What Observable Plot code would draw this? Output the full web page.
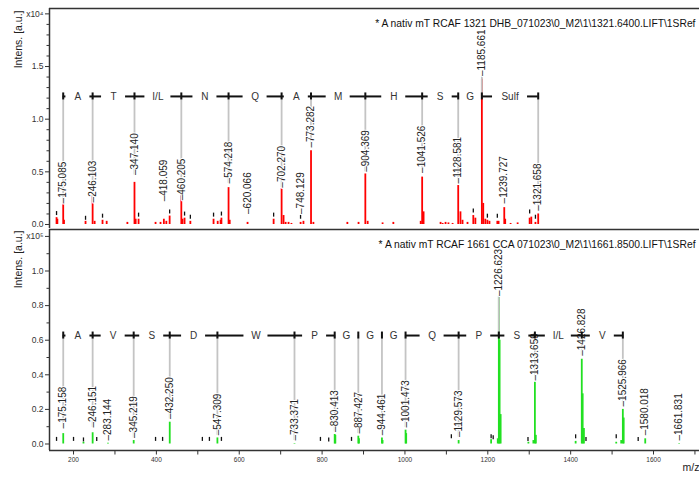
<!DOCTYPE html>
<html><head><meta charset="utf-8">
<script src="https://cdn.jsdelivr.net/npm/d3@7"></script>
<script src="https://cdn.jsdelivr.net/npm/@observablehq/plot@0.6"></script>
<style>
html,body{margin:0;padding:0;background:#fff;}
#chart svg{display:block;}
</style></head><body><div id="chart"></div>
<script>
// ---------------- DATA ----------------
const mzDomain = [142, 1711];

// Top spectrum (x10^4)
const topTitle = "* A nativ mT RCAF 1321 DHB_071023\\0_M2\\1\\1321.6400.LIFT\\1SRef";
const topPeakMz  = [175.085,246.103,347.140,418.059,460.205,574.218,620.066,702.270,748.129,773.282,904.369,1041.526,1128.581,1185.661,1239.727,1321.658,
  159,161,177,229,251,270,280,330,350,357,398,410,424,432,463,468,482,538,548,555,557,577,683,707,712,719,726,755,779,861,888,910,946,972,1038,1045,1086,1091,1098,1105,1115,1134,1139,1151,1165,1170,1189,1194,1199,1204,1223,1226,1242,1255,1272,1301,1305,1315];
const topPeakInt = [0.25,0.27,0.40,0.05,0.27,0.35,0.02,0.34,0.02,0.70,0.48,0.45,0.37,1.38,0.16,0.10,
  0.065,0.05,0.04,0.03,0.03,0.04,0.03,0.02,0.05,0.05,0.02,0.02,0.03,0.08,0.05,0.06,0.03,0.05,0.03,0.04,0.06,0.04,0.05,0.085,0.02,0.02,0.01,0.03,0.02,0.02,0.02,0.03,0.015,0.02,0.03,0.12,0.02,0.01,0.02,0.015,0.01,0.12,0.04,0.02,0.085,0.06,0.2,0.05,0.04,0.03,0.03,0.03,0.05,0.01,0.015,0.06,0.07,0.02];
const topMarkMz = [159,229,270,357,432,468,482,538,557,683,748,1165,1199,1223,1301,1315];
const topMarkY  = [0.085,0.04,0.06,0.07,0.1,0.08,0.05,0.07,0.08,0.07,0.05,0.11,0.06,0.06,0.1,0.05];
const topLabelMz   = [175.085,246.103,347.140,418.059,460.205,574.218,620.066,702.270,748.129,773.282,904.369,1041.526,1128.581,1185.661,1239.727,1321.658];
const topLabelText = ["175.085","246.103","347.140","418.059","460.205","574.218","620.066","702.270","748.129","773.282","904.369","1041.526","1128.581","1185.661","1239.727","1321.658"];
const topLabelY    = [0.2,0.21,0.47,0.22,0.23,0.39,0.1,0.35,0.1,0.73,0.5,0.49,0.39,1.41,0.2,0.13];
const topSeqMz     = [175.085,246.103,347.140,460.205,574.218,702.270,773.282,904.369,1041.526,1128.581,1185.661,1321.658];
const topSeqLetters= ["A","T","I/L","N","Q","A","M","H","S","G","Sulf"];
const topBracketY  = 1.216;

// Bottom spectrum (x10^5)
const botTitle = "* A nativ mT RCAF 1661 CCA 071023\\0_M2\\1\\1661.8500.LIFT\\1SRef";
const botPeakMz  = [175.158,246.151,283.144,345.219,432.250,547.309,733.371,830.413,887.427,944.461,1001.473,1129.573,1226.623,1313.659,1426.828,1525.966,1580.018,1661.831,
  224,832,889,946,1003,1208,1224,1228.5,1231,1298,1310,1316,1412,1429,1432,1510,1522,1528];
const botPeakInt = [0.06,0.065,0.004,0.02,0.126,0.035,0.003,0.055,0.045,0.035,0.08,0.02,0.85,0.357,0.49,0.2,0.03,0.003,
  0.01,0.05,0.03,0.02,0.06,0.025,0.03,0.6,0.17,0.01,0.02,0.05,0.015,0.29,0.09,0.01,0.02,0.15];
const botMarkMz = [159,200,224,256,398,415,511,528,557,796,816,871,1112,1208,1213,1297,1412,1437,1510,1563];
const botMarkY  = [0.015,0.015,0.012,0.015,0.015,0.015,0.015,0.015,0.015,0.015,0.012,0.015,0.03,0.03,0.025,0.015,0.03,0.015,0.03,0.015];
const botLabelMz   = [175.158,246.151,283.144,345.219,432.250,547.309,733.371,830.413,887.427,944.461,1001.473,1129.573,1226.623,1313.659,1426.828,1525.966,1580.018,1661.831];
const botLabelText = ["175.158","246.151","283.144","345.219","432.250","547.309","733.371","830.413","887.427","944.461","1001.473","1129.573","1226.623","1313.659","1426.828","1525.966","1580.018","1661.831"];
const botLabelY    = [0.09,0.095,0.02,0.035,0.145,0.05,0.02,0.07,0.06,0.05,0.095,0.04,0.855,0.367,0.51,0.217,0.05,0.02];
const botSeqMz     = [175.158,246.151,345.219,432.250,547.309,733.371,830.413,887.427,944.461,1001.473,1129.573,1226.623,1313.659,1426.828,1525.966];
const botSeqLetters= ["A","V","S","D","W","P","G","G","G","Q","P","S","I/L","V"];
const botBracketY  = 0.627;

const xTicks = d3.range(200, 1800, 100);

// ---------------- DRAW ----------------
const FONT = "'Liberation Sans', Arial, Helvetica, sans-serif";
const W = 699, ML = 49, MR = 0;
const pxPerMz = (W - ML - MR) / (mzDomain[1] - mzDomain[0]);
const AX = "#333";

function panel(c) {
  const pxPerY = (c.height - c.marginTop - c.marginBottom) / (c.yDomain[1] - c.yDomain[0]);
  const py = px => px / pxPerY;
  const peaks = c.peakMz.map((mz, i) => ({mz, v: c.peakInt[i]}));
  const marks = c.markMz.map((mz, i) => ({mz, v: c.markY[i]}));
  const labels = c.labMz.map((mz, i) => ({mz, text: c.labText[i], v: c.labY[i]}));
  const seqLabels = labels.filter(d => c.seqMz.includes(d.mz));
  const segs = [], letters = [];
  for (let i = 0; i < c.seqLetters.length; i++) {
    const a = c.seqMz[i], b = c.seqMz[i + 1], mid = (a + b) / 2;
    const L = c.seqLetters[i].length;
    const gapPx = L >= 4 ? 35 : L === 3 ? 26 : 24;
    const g = gapPx / 2 / pxPerMz;
    if (mid - g > a) segs.push({x1: a, x2: mid - g});
    if (b > mid + g) segs.push({x1: mid + g, x2: b});
    letters.push({mid, letter: c.seqLetters[i]});
  }
  const m = [
    Plot.ruleX([mzDomain[0]], {stroke: AX, strokeWidth: 1.5}),
    Plot.ruleY([c.yDomain[1]], {stroke: AX, strokeWidth: 1.5}),
    Plot.axisY({ticks: c.yMinor, tickSize: 2.5, tickFormat: () => "", color: AX, label: null}),
    Plot.axisY({ticks: c.yMajor, tickSize: 4, tickPadding: 2, fontSize: 8.5, color: AX,
      tickFormat: d => d === c.expValue ? c.expLabel : d.toFixed(1), label: null}),
    Plot.ruleX(peaks, {x: "mz", y1: 0, y2: "v", stroke: c.color, strokeWidth: 1.8}),
    Plot.ruleX(marks, {x: "mz", y1: "v", y2: d => d.v + py(4), stroke: "#111", strokeWidth: 1.3}),
    Plot.ruleX(seqLabels, {x: "mz", y1: "v", y2: c.bracketY, stroke: "#c4c4c4", strokeWidth: 1.8}),
    Plot.text(labels, {x: "mz", y: "v", text: d => "\u2013" + d.text, rotate: -90, textAnchor: "start",
      fontSize: 10, fill: "#222", stroke: "white", strokeWidth: 2}),
    Plot.ruleY(segs, {x1: "x1", x2: "x2", y: () => c.bracketY, stroke: "#111", strokeWidth: 2}),
    Plot.ruleX(c.seqMz, {x: d => d, y1: c.bracketY - py(3.5), y2: c.bracketY + py(3.5), stroke: "#111", strokeWidth: 2}),
    Plot.text(letters, {x: "mid", y: () => c.bracketY, text: "letter", fontSize: 10, fill: "#333"}),
    Plot.text([c.title], {frameAnchor: "top-right", textAnchor: "end", dx: -4, dy: 11, fontSize: 10.3, fill: "#111"}),
    Plot.text(["Intens. [a.u.]"], {frameAnchor: "top-left", rotate: -90, textAnchor: "end", dx: -35, dy: c.ylabDy, fontSize: 10.5, fill: "#222"})
  ];
  if (c.xAxis) {
    m.push(Plot.ruleY([c.yDomain[0]], {stroke: AX, strokeWidth: 1.5}));
    m.push(Plot.axisX({ticks: xTicks, tickSize: 4.5, tickPadding: 2, fontSize: 6.5, color: AX, label: null,
      tickFormat: d => (d % 200 === 0 && d <= 1600) ? String(d) : ""}));
    m.push(Plot.text(["m/z"], {frameAnchor: "bottom-right", textAnchor: "start", dx: -17, dy: 20, fontSize: 10.5, fill: "#222"}));
  }
  return Plot.plot({
    width: W, height: c.height,
    marginLeft: ML, marginRight: MR, marginTop: c.marginTop, marginBottom: c.marginBottom,
    style: {fontFamily: FONT, background: "white", overflow: "visible"},
    x: c.xAxis ? {domain: mzDomain} : {domain: mzDomain, axis: null},
    y: {domain: c.yDomain},
    marks: m
  });
}

const topPlot = panel({
  height: 228, marginTop: 8, marginBottom: 0, yDomain: [-0.038, 2.051],
  peakMz: topPeakMz, peakInt: topPeakInt, color: "#ff0000",
  markMz: topMarkMz, markY: topMarkY,
  labMz: topLabelMz, labText: topLabelText, labY: topLabelY,
  seqMz: topSeqMz, seqLetters: topSeqLetters, bracketY: topBracketY,
  title: topTitle,
  yMajor: [0, 0.5, 1, 1.5, 2], yMinor: [0.1,0.2,0.3,0.4,0.6,0.7,0.8,0.9,1.1,1.2,1.3,1.4,1.6,1.7,1.8,1.9],
  expValue: 2, expLabel: "x10\u2074", xAxis: false, ylabDy: 2
});
const botPlot = panel({
  height: 251, marginTop: 1, marginBottom: 29, yDomain: [-0.0376, 1.240],
  peakMz: botPeakMz, peakInt: botPeakInt, color: "#22e022",
  markMz: botMarkMz, markY: botMarkY,
  labMz: botLabelMz, labText: botLabelText, labY: botLabelY,
  seqMz: botSeqMz, seqLetters: botSeqLetters, bracketY: botBracketY,
  title: botTitle,
  yMajor: [0, 0.2, 0.4, 0.6, 0.8, 1.0, 1.2], yMinor: [0.1,0.3,0.5,0.7,0.9,1.1],
  expValue: 1.2, expLabel: "x10\u2075", xAxis: true, ylabDy: 1
});
document.getElementById("chart").append(topPlot, botPlot);
</script></body></html>
